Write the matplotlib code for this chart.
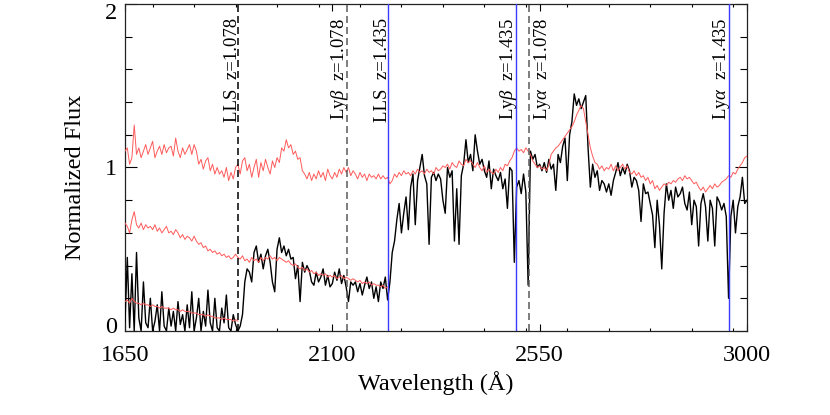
import numpy as np
import matplotlib
matplotlib.use("Agg")
import matplotlib.pyplot as plt
from matplotlib import transforms as mtrans
from matplotlib.ticker import FixedLocator, MultipleLocator

plt.rcParams['font.family'] = ['Liberation Serif', 'DejaVu Serif']
plt.rcParams['mathtext.fontset'] = 'custom'
plt.rcParams['mathtext.rm'] = 'Liberation Serif'
plt.rcParams['mathtext.it'] = 'Liberation Serif:italic'

# ---------------- data ----------------
wave_start = 1650.0   # Angstrom, first pixel
wave_step = 5.0       # Angstrom per sample

# observed spectrum (black), 1650-3000 A
flux_obs = [
    0.05, 0.45, 0.02, 0.35, 0.00, 0.48, 0.08, 0.00, 0.30, 0.05,
    0.02, 0.20, 0.00, 0.06, 0.16, 0.00, 0.24, 0.03, 0.00, 0.14,
    0.03, 0.12, 0.00, 0.18, 0.04, 0.10, 0.00, 0.16, 0.02, 0.24,
    0.00, 0.08, 0.20, 0.00, 0.12, 0.03, 0.25, 0.05, 0.00, 0.20,
    0.02, 0.00, 0.14, 0.05, 0.22, 0.02, 0.00, 0.10, 0.04, 0.00,
    0.03, 0.10, 0.30, 0.38, 0.36, 0.30, 0.48, 0.52, 0.42, 0.47,
    0.38, 0.46, 0.50, 0.42, 0.30, 0.24, 0.50, 0.57, 0.48, 0.52,
    0.46, 0.50, 0.44, 0.45, 0.32, 0.40, 0.18, 0.42, 0.36, 0.40,
    0.37, 0.30, 0.28, 0.36, 0.30, 0.33, 0.38, 0.28, 0.34, 0.27,
    0.29, 0.36, 0.31, 0.38, 0.29, 0.34, 0.27, 0.18, 0.30, 0.28,
    0.30, 0.24, 0.29, 0.22, 0.28, 0.33, 0.26, 0.30, 0.20, 0.27,
    0.18, 0.30, 0.26, 0.33, 0.19, 0.30, 0.48, 0.55, 0.68, 0.78,
    0.60, 0.72, 0.82, 0.62, 0.88, 0.96, 0.65, 0.92, 1.00, 1.08,
    0.95, 0.90, 0.53, 0.94, 0.97, 0.92, 0.96, 0.93, 0.80, 0.72,
    1.00, 0.94, 0.98, 0.55, 0.87, 0.53, 0.95, 1.02, 1.17, 1.03,
    1.08, 0.98, 1.20, 1.10, 1.02, 1.05, 0.98, 0.94, 1.04, 0.87,
    0.99, 0.95, 0.92, 0.97, 0.87, 0.93, 0.75, 1.00, 0.98, 0.42,
    0.88, 0.92, 0.84, 0.96, 0.85, 0.28, 1.10, 1.05, 1.08, 1.00,
    1.02, 0.98, 1.03, 0.97, 1.05, 0.99, 1.02, 0.86, 1.08, 1.03,
    1.13, 1.18, 0.92, 1.20, 1.28, 1.45, 1.38, 1.42, 1.36, 1.40,
    1.44, 1.12, 0.88, 1.02, 0.94, 0.98, 0.86, 0.92, 0.90, 0.85,
    0.90, 0.83, 0.92, 0.97, 1.03, 0.95, 1.00, 0.96, 1.02, 0.98,
    0.88, 0.94, 0.92, 0.86, 0.67, 0.90, 0.84, 0.85, 0.78, 0.71,
    0.51, 0.80, 0.65, 0.38, 0.72, 0.90, 0.80, 0.86, 0.75, 0.88,
    0.82, 0.84, 0.88, 0.78, 0.74, 0.85, 0.65, 0.80, 0.76, 0.52,
    0.78, 0.84, 0.76, 0.55, 0.80, 0.75, 0.52, 0.82, 0.79, 0.74,
    0.78, 0.70, 0.20, 0.70, 0.80, 0.60, 0.76, 0.82, 0.94, 0.78,
    0.80,
]

# composite template, unabsorbed (upper red), 1650-3000 A
flux_template = [
    1.10, 1.12, 1.02, 1.06, 1.26, 1.08, 1.12, 1.06, 1.10, 1.14,
    1.08, 1.12, 1.16, 1.06, 1.10, 1.13, 1.08, 1.14, 1.09, 1.12,
    1.13, 1.07, 1.18, 1.10, 1.06, 1.12, 1.08, 1.11, 1.14, 1.08,
    1.14, 1.10, 1.02, 1.05, 0.99, 1.04, 1.06, 0.98, 1.02, 0.96,
    1.00, 0.96, 0.98, 0.94, 1.00, 0.92, 0.97, 0.93, 1.00, 1.02,
    0.96, 1.04, 1.06, 0.98, 1.02, 0.94, 1.00, 1.05, 0.94, 1.03,
    0.98, 1.05, 1.00, 0.96, 1.04, 1.00, 1.06, 1.03, 1.12, 1.10,
    1.17, 1.12, 1.14, 1.08, 1.10, 1.05, 1.06, 0.98, 0.96, 0.93,
    0.97, 0.92, 0.96, 0.93, 0.98, 0.94, 0.97, 0.92, 0.99, 0.95,
    0.93, 0.97, 0.94, 0.99, 0.96, 1.00, 0.97, 1.00, 0.95, 0.98,
    0.96, 0.93, 0.97, 0.94, 0.96, 0.92, 0.96, 0.94, 0.95, 0.93,
    0.96, 0.93, 0.95, 0.93, 0.94, 0.90, 0.92, 0.96, 0.94, 0.97,
    0.95, 0.98, 0.96, 0.97, 0.95, 0.98, 0.96, 0.99, 0.97, 0.98,
    0.96, 0.99, 0.97, 0.98, 0.96, 1.00, 0.98, 0.99, 1.01, 1.00,
    1.02, 0.99, 1.03, 1.01, 1.00, 1.04, 1.02, 1.01, 1.05, 1.03,
    1.04, 1.02, 1.00, 1.03, 1.00, 0.98, 1.01, 0.97, 0.99, 0.97,
    0.96, 0.99, 0.97, 1.00, 0.98, 1.02, 1.01, 1.04, 1.06, 1.10,
    1.12, 1.10, 1.11, 1.09, 1.12, 1.10, 1.08, 1.04, 1.02, 1.00,
    1.01, 0.99, 1.00, 0.98, 1.02, 1.08, 1.10, 1.12, 1.13, 1.15,
    1.17, 1.19, 1.21, 1.23, 1.25, 1.28, 1.32, 1.35, 1.38, 1.36,
    1.28, 1.20, 1.12, 1.07, 1.03, 1.02, 0.99, 1.01, 0.98, 1.00,
    0.99, 1.02, 0.98, 1.01, 0.98, 1.00, 1.02, 0.99, 1.01, 0.97,
    0.96, 0.98, 0.95, 0.97, 0.94, 0.95, 0.92, 0.94, 0.90, 0.92,
    0.87, 0.89, 0.86, 0.88, 0.90, 0.89, 0.91, 0.90, 0.92, 0.91,
    0.93, 0.94, 0.92, 0.95, 0.93, 0.94, 0.92, 0.90, 0.91, 0.88,
    0.86, 0.88, 0.85, 0.87, 0.89, 0.87, 0.90, 0.88, 0.89, 0.91,
    0.92, 0.93, 0.95, 0.94, 0.97, 0.96, 0.99, 1.01, 1.03, 1.06,
    1.07,
]

# template absorbed by the z=1.435 system (middle red), 1650-2220 A
flux_template_lls1 = [
    0.66, 0.64, 0.60, 0.68, 0.73, 0.65, 0.63, 0.66, 0.62, 0.65,
    0.63, 0.64, 0.62, 0.65, 0.61, 0.63, 0.60, 0.62, 0.64, 0.60,
    0.61, 0.59, 0.62, 0.60, 0.57, 0.59, 0.56, 0.58, 0.57, 0.55,
    0.58, 0.55, 0.53, 0.54, 0.51, 0.52, 0.49, 0.50, 0.48, 0.49,
    0.47, 0.48, 0.46, 0.47, 0.45, 0.46, 0.44, 0.45, 0.47, 0.45,
    0.44, 0.46, 0.43, 0.44, 0.42, 0.45, 0.43, 0.44, 0.42, 0.45,
    0.43, 0.45, 0.44, 0.46, 0.44, 0.45, 0.43, 0.45, 0.44, 0.43,
    0.42, 0.43, 0.41, 0.40, 0.41, 0.39, 0.38, 0.39, 0.37, 0.38,
    0.36, 0.37, 0.35, 0.36, 0.34, 0.35, 0.34, 0.35, 0.33, 0.34,
    0.33, 0.34, 0.32, 0.33, 0.34, 0.32, 0.33, 0.32, 0.31, 0.32,
    0.31, 0.30, 0.31, 0.29, 0.30, 0.29, 0.30, 0.28, 0.29, 0.28,
    0.28, 0.27, 0.28, 0.26, 0.27,
]

# template absorbed by both systems (lower red), 1650-1895 A
flux_template_lls2 = [
    0.18, 0.19, 0.17, 0.20, 0.18, 0.17, 0.17, 0.16, 0.17, 0.16,
    0.16, 0.15, 0.16, 0.15, 0.15, 0.14, 0.15, 0.14, 0.14, 0.14,
    0.13, 0.14, 0.13, 0.13, 0.12, 0.13, 0.12, 0.12, 0.12, 0.11,
    0.11, 0.11, 0.10, 0.10, 0.10, 0.09, 0.10, 0.09, 0.09, 0.08,
    0.08, 0.08, 0.07, 0.08, 0.07, 0.07, 0.07, 0.06, 0.07, 0.06,
]

# rest wavelengths and redshifts of the marked features
rest_lls = 912.0
rest_lyb = 1025.72
rest_lya = 1215.67
z_low = 1.078
z_high = 1.435

line_labels = [
    ("LLS  z=1.078", rest_lls, z_low),
    (r"Ly$\beta$  z=1.078", rest_lyb, z_low),
    ("LLS  z=1.435", rest_lls, z_high),
    (r"Ly$\beta$  z=1.435", rest_lyb, z_high),
    (r"Ly$\alpha$  z=1.078", rest_lya, z_low),
    (r"Ly$\alpha$  z=1.435", rest_lya, z_high),
]

x_ticks = [1650, 2100, 2550, 3000]
y_ticks = [0, 1, 2]


def wave_grid(values):
    return wave_start + wave_step * np.arange(len(values))


# ---------------- figure ----------------
fig = plt.figure(figsize=(8.3, 4.15), dpi=100)
ax = fig.add_axes([0.1506, 0.2024, 0.7494, 0.788])

ax.plot(wave_grid(flux_obs), flux_obs, color='black', lw=1.0, zorder=3)
ax.plot(wave_grid(flux_template), flux_template, color='#ff5a5a', lw=0.7, zorder=4)
ax.plot(wave_grid(flux_template_lls1), flux_template_lls1, color='#ff5a5a', lw=0.7, zorder=4)
ax.plot(wave_grid(flux_template_lls2), flux_template_lls2, color='#ff5a5a', lw=0.7, zorder=4)

px = fig.dpi_scale_trans
for label, rest, z in line_labels:
    wl = rest * (1.0 + z)
    if z == z_high:
        ax.axvline(wl, color='#3b3bff', lw=1.0, zorder=5)
    else:
        col = 'black' if rest == rest_lls else '#5a5a5a'
        ax.axvline(wl, color=col, lw=1.1, dashes=(4.6, 2.6), zorder=5)
    base = mtrans.blended_transform_factory(ax.transData, ax.transAxes)
    tr = base + mtrans.ScaledTranslation(3 / 100, 0, px)
    ha = 'left' if (rest == rest_lya and z == z_low) else 'right'
    ax.text(wl, 0.958, label, rotation=90, ha=ha, va='top', fontsize=13.5,
            transform=tr, zorder=6)

ax.set_xlim(1650, 3000)
ax.set_ylim(0, 2)
ax.xaxis.set_major_locator(FixedLocator(x_ticks))
ax.xaxis.set_minor_locator(MultipleLocator(90))
ax.yaxis.set_major_locator(FixedLocator(y_ticks))
ax.yaxis.set_minor_locator(MultipleLocator(0.2))
ax.set_xticklabels([str(t) for t in x_ticks])
ax.set_yticklabels([str(t) for t in y_ticks])

ax.tick_params(axis='both', which='both', direction='in', top=True, right=True,
               width=0.8, color='black')
ax.tick_params(axis='x', which='major', length=5, pad=10, labelsize=17.5)
ax.tick_params(axis='x', which='minor', length=2.5)
ax.tick_params(axis='y', which='major', length=8.6, pad=6, labelsize=17.5)
ax.tick_params(axis='y', which='minor', length=4.7)
for sp in ax.spines.values():
    sp.set_linewidth(0.9)
    sp.set_color('#222222')

# nudge end labels inward like the original
yt = ax.yaxis.get_major_ticks()
yt[0].label1.set_transform(yt[0].label1.get_transform() + mtrans.ScaledTranslation(0, 6 / 100, px))
yt[-1].label1.set_transform(yt[-1].label1.get_transform() + mtrans.ScaledTranslation(0, -7 / 100, px))

ax.set_xlabel('Wavelength (Å)', fontsize=17.5)
ax.set_ylabel('Normalized Flux', fontsize=17.5)
ax.xaxis.set_label_coords(0.5, -0.16)
ax.xaxis.label.set_va('center')
ax.yaxis.set_label_coords(-0.08, 0.47)
ax.yaxis.label.set_va('center')

fig.savefig('out.png', dpi=100, facecolor='white')
